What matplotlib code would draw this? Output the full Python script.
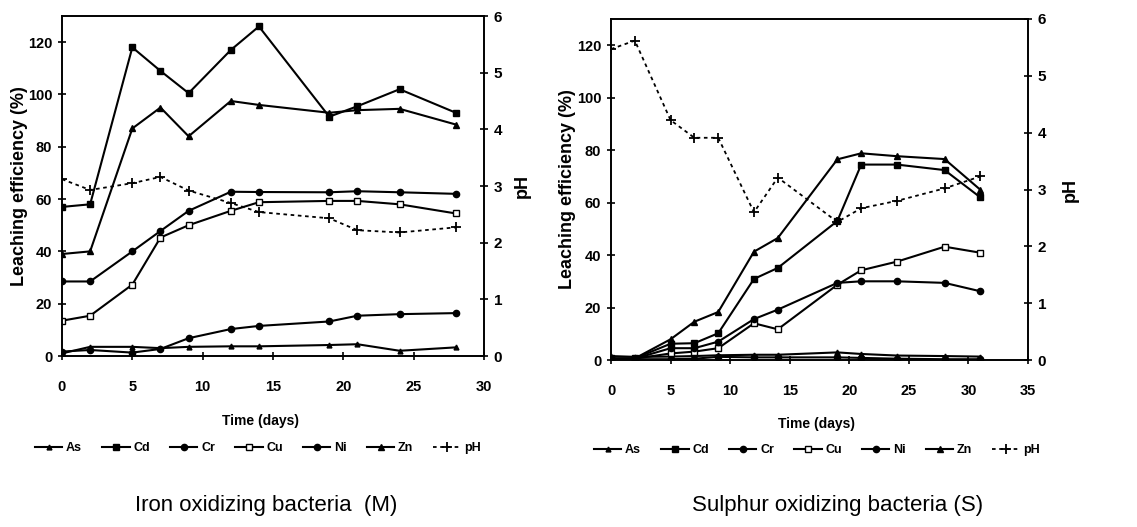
import matplotlib
matplotlib.use("Agg")
import matplotlib.pyplot as plt
from matplotlib import ticker

plt.rcParams['font.family'] = ['Liberation Sans', 'DejaVu Sans']

# Iron oxidizing bacteria (M)
days_m = [0, 2, 5, 7, 9, 12, 14, 19, 21, 24, 28]
as_m = [1.0, 3.5, 3.5, 3.0, 3.5, 3.7, 3.7, 4.2, 4.5, 2.0, 3.3]
cd_m = [57, 58, 118, 109, 100.5, 117, 126, 91.5, 95.5, 102, 93]
cr_m = [1.7, 2.3, 1.3, 2.7, 6.8, 10.3, 11.5, 13.2, 15.4, 16, 16.4]
cu_m = [13.5, 15.4, 27.3, 45.3, 50, 55.5, 58.8, 59.3, 59.3, 58, 54.5]
ni_m = [28.5, 28.5, 40, 47.8, 55.5, 62.8, 62.7, 62.6, 63, 62.6, 62]
zn_m = [39, 40, 87, 95, 84, 97.5, 96, 93, 94, 94.5, 88.5]
ph_m = [3.12, 2.93, 3.05, 3.16, 2.92, 2.70, 2.54, 2.43, 2.22, 2.18, 2.27]

# Sulphur oxidizing bacteria (S)
days_s = [0, 2, 5, 7, 9, 12, 14, 19, 21, 24, 28, 31]
as_s = [1.5, 1.2, 1.3, 1.5, 1.8, 2.0, 2.0, 2.9, 2.3, 1.7, 1.5, 1.3]
cd_s = [0.6, 0.6, 6.2, 6.4, 10.2, 30.9, 35.1, 53, 74.5, 74.5, 72.4, 62]
cr_s = [0.3, 0.3, 0.3, 0.5, 1.2, 1.0, 1.0, 1.0, 0.8, 0.5, 0.3, 0.3]
cu_s = [0.5, 0.5, 2.5, 3.2, 4.5, 14, 11.7, 28.7, 34.2, 37.5, 43.2, 40.9]
ni_s = [0.3, 0.5, 4.5, 4.5, 7, 15.6, 19.2, 29.4, 30, 30, 29.4, 26.2]
zn_s = [0.6, 0.6, 7.9, 14.6, 18.3, 41.3, 46.5, 76.5, 78.8, 77.7, 76.6, 64.9]
ph_s = [5.47, 5.62, 4.22, 3.91, 3.91, 2.60, 3.21, 2.43, 2.67, 2.80, 3.02, 3.23]

metal_names = ["As", "Cd", "Cr", "Cu", "Ni", "Zn"]
# marker, face colour, size
metal_styles = [("^", "black", 3.5), ("s", "black", 4.5), ("o", "black", 4.5),
                ("s", "white", 4.5), ("o", "black", 4.5), ("^", "black", 4.5)]


def plot_panel(fig, rect, days, metals, ph, xmax, ylab_x, legend_xy, xlabel_xy, title, title_xy):
    ax = fig.add_axes(rect)
    for name, values, (mk, fc, ms) in zip(metal_names, metals, metal_styles):
        ax.plot(days, values, color='black', linewidth=1.5, marker=mk,
                markerfacecolor=fc, markeredgecolor='black', markersize=ms, label=name)

    ax.set_xlim(0, xmax)
    ax.set_ylim(0, 130)
    ax.xaxis.set_major_locator(ticker.MultipleLocator(5))
    ax.set_yticks([0, 20, 40, 60, 80, 100, 120])
    ax.set_ylabel("Leaching efficiency (%)", fontsize=13, fontweight='bold')
    ax.yaxis.set_label_coords(ylab_x[0], 0.5)
    ax.tick_params(direction='inout', length=6, width=1.2, labelsize=10.5)
    ax.tick_params(axis='x', pad=14)
    ax.tick_params(axis='y', pad=4)
    for lab in ax.get_xticklabels() + ax.get_yticklabels():
        lab.set_fontweight('bold')

    # pH on the secondary axis
    ax2 = ax.twinx()
    ax2.plot(days, ph, color='black', linewidth=1.3, linestyle=(0, (2, 2)),
             marker='+', markersize=7, markeredgewidth=1.3, label='pH')
    ax2.set_ylim(0, 6)
    ax2.set_yticks([0, 1, 2, 3, 4, 5, 6])
    ax2.set_ylabel("pH", fontsize=13, fontweight='bold')
    ax2.yaxis.set_label_coords(ylab_x[1], 0.5)
    ax2.tick_params(direction='inout', length=6, width=1.2, labelsize=11, pad=4)
    for lab in ax2.get_yticklabels():
        lab.set_fontweight('bold')

    for a in (ax, ax2):
        for sp in a.spines.values():
            sp.set_linewidth(1.2)

    fig.text(xlabel_xy[0] / 1137, 1 - xlabel_xy[1] / 527, "Time (days)",
             ha='center', va='center', fontsize=10, fontweight='bold')

    h1, l1 = ax.get_legend_handles_labels()
    h2, l2 = ax2.get_legend_handles_labels()
    fig.legend(h1 + h2, l1 + l2, loc='center', ncol=7, frameon=False,
               bbox_to_anchor=(legend_xy[0] / 1137, 1 - legend_xy[1] / 527),
               bbox_transform=fig.transFigure, handlelength=2.2,
               columnspacing=1.6, handletextpad=0.3, prop={'weight': 'bold', 'size': 9})

    fig.text(title_xy[0] / 1137, 1 - title_xy[1] / 527, title,
             ha='center', va='center', fontsize=16)
    return ax


fig = plt.figure(figsize=(11.37, 5.27), dpi=100)

plot_panel(fig, [62 / 1137, 171 / 527, 422 / 1137, 340 / 527], days_m,
           [as_m, cd_m, cr_m, cu_m, ni_m, zn_m], ph_m, 30, (-0.08, 1.07),
           (258, 448), (260, 421), "Iron oxidizing bacteria  (M)", (266, 505))

plot_panel(fig, [611 / 1137, 167 / 527, 417 / 1137, 341 / 527], days_s,
           [as_s, cd_s, cr_s, cu_s, ni_s, zn_s], ph_s, 35, (-0.085, 1.08),
           (817, 450), (817, 424), "Sulphur oxidizing bacteria (S)", (838, 505))

fig.savefig("out.png", dpi=100)
